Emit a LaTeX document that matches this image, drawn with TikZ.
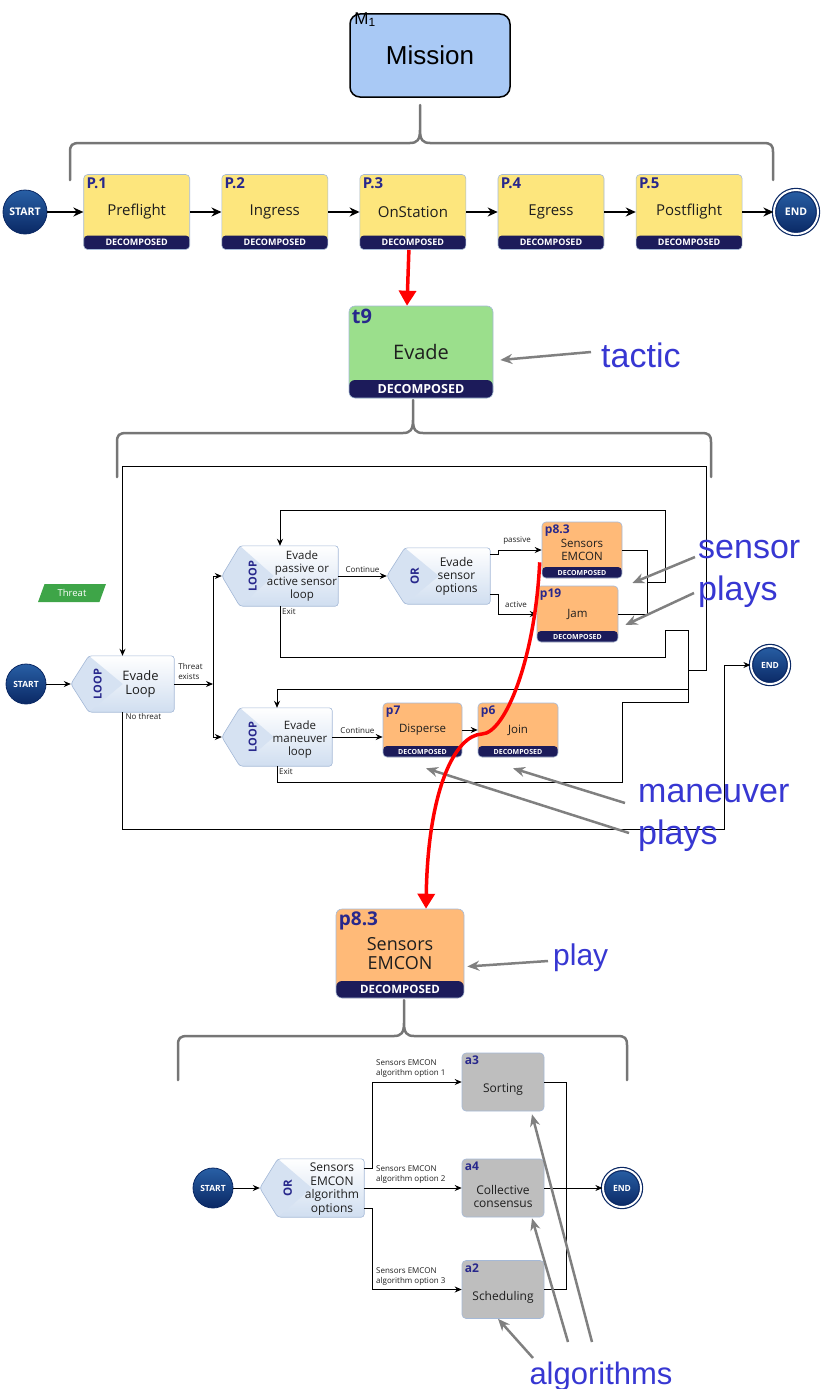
\documentclass[tikz,border=0pt]{standalone}
\usepackage{fontspec}
\setmainfont{Open Sans}
\newfontfamily\notefont{Liberation Sans}
\usetikzlibrary{positioning,calc,arrows.meta,shapes.geometric}
\definecolor{missionColor}{RGB}{169,201,245}
\definecolor{phaseColor}{RGB}{253,230,125}
\definecolor{tacticColor}{RGB}{155,223,140}
\definecolor{playColor}{RGB}{255,186,120}
\definecolor{algoColor}{RGB}{190,190,190}
\definecolor{bandColor}{RGB}{28,27,90}
\definecolor{idColor}{RGB}{40,40,140}
\definecolor{edgeColor}{RGB}{165,185,215}
\definecolor{textColor}{RGB}{30,30,30}
\definecolor{noteColor}{RGB}{55,55,210}
\definecolor{noteGray}{RGB}{128,128,128}
\definecolor{braceColor}{RGB}{118,118,118}
\definecolor{startTop}{RGB}{40,95,165}
\definecolor{startBottom}{RGB}{10,40,100}
\definecolor{threatColor}{RGB}{62,165,72}
\definecolor{hexBottom}{RGB}{208,222,240}
\definecolor{hexInner}{RGB}{214,226,242}

\newcommand{\fsz}[2]{\fontsize{#1}{#2}\selectfont}
% outline of a loop / or block around an (empty) named node
\newcommand{\hexshape}[1]{%
  \path[hexshade] (#1.west) -- ([xshift=18pt]#1.north west) -- (#1.north east)
    -- (#1.south east) -- ([xshift=18pt]#1.south west) -- cycle;
  \fill[hexInner] (#1.west) -- ([xshift=18pt]#1.north west) -- ([xshift=52pt]#1.west)
    -- ([xshift=18pt]#1.south west) -- cycle;
  \draw[hexline] (#1.west) -- ([xshift=18pt]#1.north west) -- (#1.north east)
    -- (#1.south east) -- ([xshift=18pt]#1.south west) -- cycle;}

\begin{document}
\begin{tikzpicture}[x=1pt, y=-1pt,
        box/.style={
                draw=edgeColor,
                line width=0.6pt,
                rounded corners=4pt,
                inner sep=0pt,
                align=center,
                text=textColor
            },
        decomposed/.style 2 args={path picture={
                \fill[bandColor] (path picture bounding box.south west) rectangle ([yshift=#1]path picture bounding box.south east);
                \node[anchor=center, inner sep=0pt, text=white, font=\bfseries\fsz{#2}{#2}] at ([yshift=#1/2]path picture bounding box.south) {DECOMPOSED};}},
        idlabel/.style={anchor=north west, inner sep=3pt, text=idColor, font=\bfseries\fsz{#1}{#1}},
        phase/.style={box, fill=phaseColor, minimum width=106pt, minimum height=75pt, font=\fsz{15}{18}, decomposed={14pt}{9}},
        tactic/.style={box, fill=tacticColor, minimum width=144pt, minimum height=92pt, rounded corners=6pt, font=\fsz{20}{24}, decomposed={18pt}{12.5}},
        play/.style={box, fill=playColor, font=\fsz{11.5}{13}, decomposed={11pt}{7}},
        algo/.style={box, fill=algoColor, minimum width=82pt, minimum height=58pt},
        algotext/.style={yshift=-8pt, align=center, text=textColor, font=\fsz{12}{13}},
        startnode/.style={circle, inner sep=0pt, top color=startTop, bottom color=startBottom, draw=startBottom, line width=0.8pt, text=white},
        endnode/.style={startnode, line width=1.2pt, double=white, double distance=2pt},
        threatbox/.style={trapezium, trapezium left angle=65, trapezium right angle=115, trapezium stretches=true,
                minimum width=68pt, minimum height=18pt, inner sep=0pt, fill=threatColor, text=white, font=\fsz{9.5}{9.5}},
        hexnode/.style={inner sep=0pt},
        hexshade/.style={top color=white, bottom color=hexBottom, rounded corners=3pt},
        hexline/.style={draw=edgeColor, line width=0.6pt, rounded corners=3pt},
        hextag/.style={rotate=90, inner sep=0pt, text=idColor, font=\bfseries\fsz{#1}{#1}},
        hextext/.style={align=center, inner sep=0pt, text=textColor},
        edgelabel/.style={inner sep=0pt, align=left, text=textColor, font=\fsz{8}{10}},
        flow/.style={-{Stealth[length=7pt,width=6pt]}, line width=0.9pt},
        topflow/.style={-{Stealth[length=10pt,width=9pt]}, line width=1.8pt},
        wire/.style={line width=0.9pt},
        redarrow/.style={red, line width=3.5pt, -{Triangle[length=15pt,width=17pt]}},
        note/.style={text=noteColor, align=left, inner sep=0pt, font=\notefont\fsz{#1}{42}},
        notearrow/.style={draw=noteGray, line width=2.5pt, -{Stealth[length=12pt,width=10pt]}},
        brace/.style={draw=braceColor, line width=2.5pt, line join=round, line cap=round}
    ]
    \useasboundingbox (0,0) rectangle (821,1389);

    % ---- Mission and phases ----
    \node[draw=black, line width=1.5pt, rounded corners=10pt, fill=missionColor, minimum width=160pt, minimum height=83pt,
        font=\notefont\fsz{26}{30},
        label={[anchor=north west, inner sep=0pt, xshift=5pt, yshift=1pt, font=\notefont\fsz{17}{17}]north west:M\textsubscript{1}}]
        (mission) at (430,55.5) {Mission};
    \draw[brace] (70,180) -- (70,152) .. controls (70,145) and (72,143) .. (80,143) -- (410,143)
        .. controls (417,143) and (420,140) .. (420,130) -- (420,105) -- (420,130)
        .. controls (420,140) and (423,143) .. (430,143) -- (763,143)
        .. controls (771,143) and (773,145) .. (773,152) -- (773,180);

    \node[startnode, minimum size=44pt, font=\bfseries\fsz{10.5}{10.5}] (start1) at (25,212) {START};
    \node[phase, right=36pt of start1, label={[idlabel=15]north west:P.1}] (p1) {Preflight};
    \node[phase, right=31.5pt of p1, label={[idlabel=15]north west:P.2}] (p2) {Ingress};
    \node[phase, right=31.5pt of p2, label={[idlabel=15]north west:P.3}] (p3) {OnStation};
    \node[phase, right=31.5pt of p3, label={[idlabel=15]north west:P.4}] (p4) {Egress};
    \node[phase, right=31.5pt of p4, label={[idlabel=15]north west:P.5}] (p5) {Postflight};
    \node[endnode, minimum size=44pt, font=\bfseries\fsz{10.5}{10.5}] (end1) at (796,212) {END};
    \draw[topflow] (start1) -- (p1);
    \draw[topflow] (p1) -- (p2);
    \draw[topflow] (p2) -- (p3);
    \draw[topflow] (p3) -- (p4);
    \draw[topflow] (p4) -- (p5);
    \draw[topflow] (p5) -- (end1);

    % ---- Tactic ----
    \node[tactic, label={[idlabel=20]north west:t9}] (t9) at (421,352) {Evade};
    \draw[redarrow] ([xshift=-4pt]p3.south) -- ([xshift=-14pt]t9.north);
    \node[note=34, anchor=west] (tacticnote) at (601,355) {tactic};
    \draw[notearrow] ([xshift=-10pt,yshift=3pt]tacticnote.west) -- ([xshift=7pt,yshift=-8pt]t9.east);
    \draw[brace] (117,477) -- (117,442) .. controls (117,435) and (119,433) .. (127,433) -- (403,433)
        .. controls (410,433) and (413,430) .. (413,420) -- (413,400) -- (413,420)
        .. controls (413,430) and (416,433) .. (423,433) -- (701,433)
        .. controls (709,433) and (711,435) .. (711,442) -- (711,477);

    % ---- Evade loop ----
    \node[threatbox] (threat) at (72,593) {Threat};
    \node[startnode, minimum size=40pt, font=\bfseries\fsz{8.5}{8.5}] (start2) at (26,684) {START};
    \node[hexnode, minimum width=103pt, minimum height=56pt] (eloop) at (122.5,684) {};
    \hexshape{eloop}
    \node[hextag=11] (eloopTag) at ([xshift=27pt]eloop.west) {LOOP};
    \node[hextext, font=\fsz{13}{14}] (eloopText) at ([xshift=18pt]eloop.center) {Evade\\Loop};

    % sensor loop
    \node[hexnode, minimum width=116pt, minimum height=60pt] (sloop) at (280,576) {};
    \hexshape{sloop}
    \node[hextag=11] (sloopTag) at ([xshift=31pt]sloop.west) {LOOP};
    \node[hextext, font=\fsz{11.5}{13}] (sloopText) at ([xshift=22pt]sloop.center) {Evade\\passive or\\active sensor\\loop};
    \node[hexnode, minimum width=103pt, minimum height=56pt] (sopt) at (438.5,576) {};
    \hexshape{sopt}
    \node[hextag=11.5] (soptTag) at ([xshift=28pt]sopt.west) {OR};
    \node[hextext, font=\fsz{12}{13}] (soptText) at ([xshift=18pt]sopt.center) {Evade\\sensor\\options};
    \node[play, minimum width=80pt, minimum height=56pt, label={[idlabel=12]north west:p8.3}] (s83) at (582,550) {Sensors\\EMCON};
    \node[play, minimum width=81pt, minimum height=56pt, label={[idlabel=12]north west:p19}] (p19) at (577.5,614) {Jam};

    % maneuver loop
    \node[hexnode, minimum width=110pt, minimum height=58pt] (mloop) at (277,737) {};
    \hexshape{mloop}
    \node[hextag=11] (mloopTag) at ([xshift=31pt]mloop.west) {LOOP};
    \node[hextext, font=\fsz{11.5}{13}] (mloopText) at ([xshift=23pt,yshift=-3pt]mloop.center) {Evade\\maneuver\\loop};
    \node[play, minimum width=79pt, minimum height=54pt, label={[idlabel=12]north west:p7}] (p7) at (422.5,730) {Disperse};
    \node[play, minimum width=80pt, minimum height=54pt, label={[idlabel=12]north west:p6}] (p6) at (518,730) {Join};
    \node[endnode, minimum size=38pt, font=\bfseries\fsz{8.5}{8.5}] (end2) at (770,665) {END};

    % bends of the loop wiring
    \coordinate (bus) at (213,684);
    \coordinate (sbus) at (647,582);
    \coordinate (sback) at (665,510);
    \coordinate (jx) at (688,670);
    \coordinate (oback) at (706,466);
    \coordinate (mx) at (622,782);
    \coordinate (nt) at (724,829);

    \draw[flow] (start2) -- (eloop.west);
    \draw[flow] (eloop.east) -- (bus);
    \node[edgelabel, anchor=south west] (existslbl) at ([xshift=4pt,yshift=4pt]eloop.east) {Threat\\exists};
    \draw[flow] (bus) |- (sloop.west);
    \draw[flow] (bus) |- (mloop.west);
    \draw[flow] (sloop.east) -- (sopt.west) node[edgelabel, midway, above=3pt] (cont1) {Continue};
    \draw[flow] ([yshift=22pt]sopt.east) -- ++(8,0) |- (s83.west);
    \node[edgelabel] (passivelbl) at (517,541) {passive};
    \draw[flow] ([yshift=-18pt]sopt.east) -- ++(8,0) |- (p19.west);
    \node[edgelabel] (activelbl) at (516,605) {active};
    \draw[wire] (s83.east) -| (sbus);
    \draw[wire] (p19.east) -| (sbus);
    \draw[flow] (sbus) -| (sback) -| (sloop.north);
    \draw[wire] (sloop.south) -- ++(0,51) -- ++(385,0) -- ++(0,-27) -- ++(23,0) -- (jx);
    \node[edgelabel, anchor=north west] (exit1) at ([xshift=2pt,yshift=-2pt]sloop.south) {Exit};
    \draw[flow] (mloop.east) -- (mloop.east -| p7.west) node[edgelabel, midway, above=3pt] (cont2) {Continue};
    \draw[flow] (p7) -- (p6);
    \draw[wire] (mloop.south) |- (mx) -- ++(0,-80) -| (jx);
    \node[edgelabel, anchor=north west] (exit2) at ([xshift=2pt,yshift=-2pt]mloop.south) {Exit};
    \draw[flow] (jx) -- ++(0,19) -| (mloop.north);
    \draw[flow] (jx) -| (oback) -| (eloop.north);
    \draw[flow] (eloop.south) |- (nt) |- (end2.west);
    \node[edgelabel, anchor=north west] (nothreat) at ([xshift=3pt,yshift=-1pt]eloop.south) {No threat};

    \node[note=34, anchor=west] (sensornote) at (698,574) {sensor\\plays};
    \draw[notearrow] ([xshift=-3pt,yshift=17pt]sensornote.west) -- ([xshift=10pt,yshift=-33pt]s83.east);
    \draw[notearrow] ([xshift=-4pt,yshift=-19pt]sensornote.west) -- ([xshift=7pt,yshift=-11pt]p19.east);
    \node[note=34, anchor=west] (maneuvernote) at (638,818) {maneuver\\plays};
    \draw[notearrow] ([xshift=-9pt,yshift=-15pt]maneuvernote.west) -- ([xshift=3.5pt,yshift=-11pt]p7.south);
    \draw[notearrow] ([xshift=-13pt,yshift=15pt]maneuvernote.west) -- ([xshift=-5pt,yshift=-11pt]p6.south);

    % ---- Play ----
    \node[play, minimum width=128pt, minimum height=89pt, rounded corners=6pt, font=\fsz{18}{19.5}, decomposed={17pt}{11.5},
        label={[idlabel=19]north west:p8.3}] (big83) at (400,953.5) {Sensors\\EMCON};
    \draw[redarrow] ([xshift=-2pt,yshift=16pt]s83.south west) .. controls (535,660) and (505,733) .. (482,734)
        .. controls (455,735) and (428,790) .. ([xshift=26pt]big83.north);
    \node[note=30, anchor=west] (playnote) at (553,958) {play};
    \draw[notearrow] ([xshift=-5pt,yshift=-3pt]playnote.west) -- ([xshift=3pt,yshift=-13pt]big83.east);
    \draw[brace] (178,1080) -- (178,1045) .. controls (178,1038) and (180,1036) .. (188,1036) -- (394,1036)
        .. controls (401,1036) and (404,1033) .. (404,1023) -- (404,1000) -- (404,1023)
        .. controls (404,1033) and (407,1036) .. (414,1036) -- (617,1036)
        .. controls (625,1036) and (627,1038) .. (627,1045) -- (627,1080);

    % ---- Algorithms ----
    \node[startnode, minimum size=40pt, font=\bfseries\fsz{8.5}{8.5}] (start3) at (213,1188) {START};
    \node[hexnode, minimum width=104pt, minimum height=58pt] (bor) at (312,1188) {};
    \hexshape{bor}
    \node[hextag=11.5] (borTag) at ([xshift=28pt]bor.west) {OR};
    \node[hextext, font=\fsz{12}{13.5}] (borText) at ([xshift=20pt,yshift=-1pt]bor.center) {Sensors\\EMCON\\algorithm\\options};
    \node[algo, label={[idlabel=12]north west:a3}, label={[algotext]center:Sorting}] (a3) at (503,1082) {};
    \node[algo, label={[idlabel=12]north west:a4}, label={[algotext]center:Collective\\consensus}] (a4) at (503,1188) {};
    \node[algo, label={[idlabel=12]north west:a2}, label={[algotext]center:Scheduling}] (a2) at (503,1289.5) {};
    \node[endnode, minimum size=38pt, font=\bfseries\fsz{8.5}{8.5}] (end3) at (622,1188) {END};

    \draw[flow] (start3) -- (bor.west);
    \draw[flow] ([yshift=20pt]bor.east) -- ++(8,0) |- (a3.west);
    \draw[flow] (bor.east) -- (a4.west);
    \draw[flow] ([yshift=-20pt]bor.east) -- ++(8,0) |- (a2.west);
    \draw[wire] (a3.east) -- ++(22,0) |- (a2.east);
    \draw[flow] (a4.east) -- (end3.west);
    \node[edgelabel, anchor=west] (opt1) at (376,1069) {Sensors EMCON\\algorithm option 1};
    \node[edgelabel, anchor=west] (opt2) at (376,1175) {Sensors EMCON\\algorithm option 2};
    \node[edgelabel, anchor=west] (opt3) at (376,1277) {Sensors EMCON\\algorithm option 3};

    \node[note=31] (algonote) at (601,1376) {algorithms};
    \draw[notearrow] ([shift={(-68,-18)}]algonote.center) -- ([xshift=-5pt]a2.south);
    \draw[notearrow] ([shift={(-33,-34)}]algonote.center) -- ([xshift=29pt,yshift=-1pt]a4.south);
    \draw[notearrow] ([shift={(-9,-34)}]algonote.center) -- ([xshift=29pt,yshift=-3pt]a3.south);
\end{tikzpicture}
\end{document}
